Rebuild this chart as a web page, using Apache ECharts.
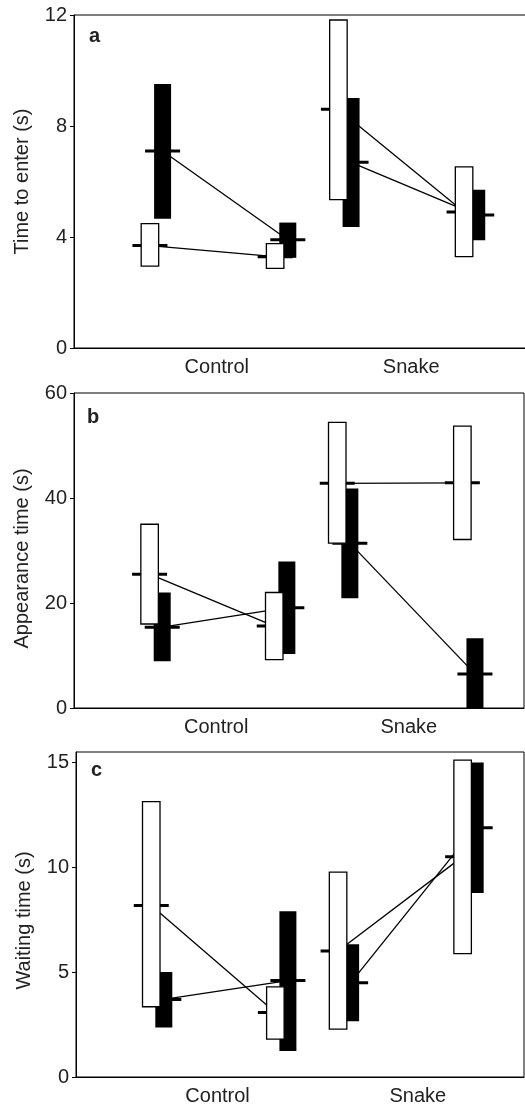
<!DOCTYPE html>
<html>
<head>
<meta charset="utf-8">
<style>
  html, body { margin: 0; padding: 0; background: #fff; }
  #chart { width: 525px; height: 1106px; }
</style>
<script src="https://cdn.jsdelivr.net/npm/echarts@6.0.0/dist/echarts.min.js"></script>
</head>
<body>
<div id="chart"></div>
<script>
  // x axis groups
  const categories = ['Control', 'Snake'];

  // rows: Control 1st, Control 2nd, Snake 1st, Snake 2nd
  // columns: low, high, mean
  const enterOpen = [[2.95, 4.48, 3.69], [2.87, 3.76, 3.29], [5.35, 11.82, 8.60], [3.29, 6.53, 4.90]];
  const enterFilled = [[4.66, 9.51, 7.10], [3.25, 4.52, 3.90], [4.36, 9.01, 6.69], [3.88, 5.70, 4.79]];

  const appearOpen = [[16.0, 35.0, 25.5], [9.2, 22.0, 15.6], [31.4, 54.4, 42.8], [32.1, 53.7, 42.9]];
  const appearFilled = [[8.9, 22.0, 15.4], [10.3, 27.9, 19.1], [20.9, 41.8, 31.4], [0, 13.3, 6.5]];

  const waitOpen = [[3.35, 13.13, 8.18], [1.81, 4.30, 3.08], [2.28, 9.77, 6.01], [5.88, 15.11, 10.51]];
  const waitFilled = [[2.36, 5.01, 3.70], [1.24, 7.90, 4.60], [2.66, 6.33, 4.49], [8.77, 15.00, 11.89]];

  const enterTicks = [0, 4, 8, 12];
  const appearTicks = [0, 20, 40, 60];
  const waitTicks = [0, 5, 10, 15];

  // layout: x runs 0..100 across each plot
  const slotX = [16.8, 44.5, 58.5, 86.3];
  const filledShift = 2.8;
  const font = "'Liberation Sans', Arial, Helvetica, sans-serif";
  const ink = '#222';

  const panels = [
    { letter: 'a', name: 'Time to enter (s)', open: enterOpen, filled: enterFilled, ticks: enterTicks,
      max: 12, top: 15, height: 333, left: 74, right: -1, catX: [31.6, 74.6], letterPos: [89, 26], namePad: 0 },
    { letter: 'b', name: 'Appearance time (s)', open: appearOpen, filled: appearFilled, ticks: appearTicks,
      max: 60, top: 393, height: 315, left: 74, right: 1, catX: [31.6, 74.4], letterPos: [87, 407], namePad: 16 },
    { letter: 'c', name: 'Waiting time (s)', open: waitOpen, filled: waitFilled, ticks: waitTicks,
      max: 15.5, top: 752, height: 325, left: 76, right: 1, catX: [31.6, 76.3], letterPos: [91, 760], namePad: 12 }
  ];

  function boxRenderer(filled) {
    return function (params, api) {
      const x = api.value(0);
      const pTop = api.coord([x, api.value(2)]);
      const pBot = api.coord([x, api.value(1)]);
      const pMean = api.coord([x, api.value(3)]);
      const w = filled ? 17 : 17.5;
      const tick = 35;
      return {
        type: 'group',
        children: [
          {
            type: 'line',
            shape: { x1: pMean[0] - tick / 2, y1: pMean[1], x2: pMean[0] + tick / 2, y2: pMean[1] },
            style: { stroke: '#000', lineWidth: 3 }
          },
          {
            type: 'rect',
            shape: { x: pTop[0] - w / 2, y: pTop[1], width: w, height: pBot[1] - pTop[1] },
            style: filled ? { fill: '#000' } : { fill: '#fff', stroke: '#000', lineWidth: 1.3 }
          }
        ]
      };
    };
  }

  const grid = [], xAxis = [], yAxis = [], series = [], graphic = [];

  panels.forEach(function (p, i) {
    grid.push({
      left: p.left, right: p.right, top: p.top, height: p.height,
      show: true, borderColor: '#000', borderWidth: 1,
      outerBoundsMode: 'none'
    });
    xAxis.push({
      type: 'value', gridIndex: i, min: 0, max: 100,
      axisLine: { show: true, onZero: false, lineStyle: { color: '#000', width: 1 } },
      axisTick: { show: false },
      splitLine: { show: false },
      axisLabel: {
        customValues: p.catX,
        fontSize: 20, color: ink, fontFamily: font, margin: 9,
        formatter: function (v) {
          let k = 0;
          p.catX.forEach(function (c, j) { if (Math.abs(c - v) < Math.abs(p.catX[k] - v)) k = j; });
          return categories[k];
        }
      }
    });
    yAxis.push({
      type: 'value', gridIndex: i, min: 0, max: p.max,
      name: p.name, nameLocation: 'middle', nameGap: 42,
      nameTextStyle: { fontSize: 20, color: ink, fontFamily: font, padding: [0, p.namePad, 0, 0] },
      axisLine: { show: true, lineStyle: { color: '#000', width: 1 } },
      axisTick: { show: true, length: 4, customValues: p.ticks, lineStyle: { color: '#000' } },
      axisLabel: { customValues: p.ticks, fontSize: 20, color: ink, fontFamily: font, margin: 7 },
      splitLine: { show: false }
    });

    const filledData = p.filled.map(function (r, k) { return [slotX[k] + filledShift, r[0], r[1], r[2]]; });
    const openData = p.open.map(function (r, k) { return [slotX[k], r[0], r[1], r[2]]; });

    series.push({
      type: 'custom', xAxisIndex: i, yAxisIndex: i, z: 2, silent: true, clip: false,
      renderItem: boxRenderer(true), encode: { x: 0, y: [1, 2, 3] }, data: filledData
    });

    // connect the means of the same group within each category
    [filledData, openData].forEach(function (d) {
      [[0, 1], [2, 3]].forEach(function (pair) {
        series.push({
          type: 'line', xAxisIndex: i, yAxisIndex: i, z: 3, silent: true,
          symbol: 'none', lineStyle: { color: '#000', width: 1.3 },
          data: pair.map(function (k) { return [d[k][0], d[k][3]]; })
        });
      });
    });

    series.push({
      type: 'custom', xAxisIndex: i, yAxisIndex: i, z: 4, silent: true, clip: false,
      renderItem: boxRenderer(false), encode: { x: 0, y: [1, 2, 3] }, data: openData
    });

    graphic.push({
      type: 'text', left: p.letterPos[0], top: p.letterPos[1], z: 10,
      style: { text: p.letter, font: 'bold 20px ' + font, fill: ink }
    });
  });

  const chart = echarts.init(document.getElementById('chart'));
  chart.setOption({
    animation: false,
    backgroundColor: '#fff',
    grid: grid,
    xAxis: xAxis,
    yAxis: yAxis,
    series: series,
    graphic: graphic
  });
</script>
</body>
</html>
